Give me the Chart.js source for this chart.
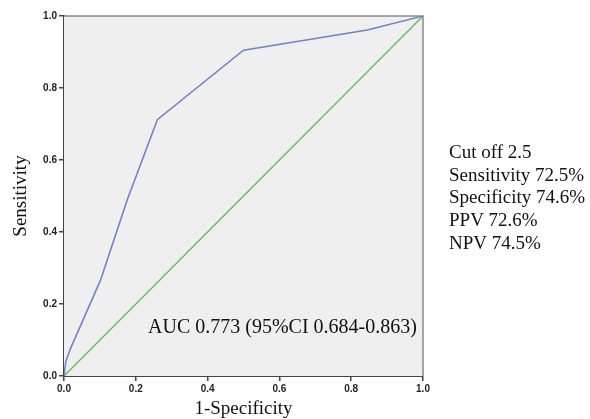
<!DOCTYPE html>
<html>
<head>
<meta charset="utf-8">
<script src="https://cdn.jsdelivr.net/npm/chart.js@4.4.1/dist/chart.umd.min.js"></script>
<style>
html,body{margin:0;padding:0;background:#fff;}
#wrap{width:590px;height:419px;}
</style>
</head>
<body>
<div id="wrap"><canvas id="c" width="590" height="419"></canvas></div>
<script>
// ROC curve (1-Specificity vs Sensitivity)
const fprValues = [0, 0.005, 0.018, 0.102, 0.125, 0.176, 0.26, 0.5, 0.845, 1];
const tprValues = [0, 0.04, 0.076, 0.267, 0.336, 0.489, 0.712, 0.905, 0.961, 1];
// Reference diagonal
const refX = [0, 1];
const refY = [0, 1];
const tickValues = [0, 0.2, 0.4, 0.6, 0.8, 1.0];
const xTitle = '1-Specificity';
const yTitle = 'Sensitivity';
const aucText = 'AUC 0.773 (95%CI 0.684-0.863)';
const statLines = ['Cut off 2.5', 'Sensitivity 72.5%', 'Specificity 74.6%', 'PPV 72.6%', 'NPV 74.5%'];

const rocPts = fprValues.map((x, i) => ({x: x, y: tprValues[i]}));
const refPts = refX.map((x, i) => ({x: x, y: refY[i]}));

const serif = '"Liberation Serif", "Times New Roman", serif';

const framePlugin = {
  id: 'frame',
  beforeDatasetsDraw(chart) {
    const a = chart.chartArea, ctx = chart.ctx;
    ctx.save();
    ctx.fillStyle = '#efefef';
    ctx.fillRect(a.left, a.top, a.right - a.left, a.bottom - a.top);
    ctx.strokeStyle = '#8a8a8a';
    ctx.lineWidth = 1.5;
    ctx.beginPath();
    ctx.moveTo(a.left, a.top);
    ctx.lineTo(a.right, a.top);
    ctx.lineTo(a.right, a.bottom);
    ctx.stroke();
    ctx.restore();
  },
  afterDraw(chart) {
    const a = chart.chartArea, ctx = chart.ctx;
    ctx.save();
    ctx.fillStyle = '#111';
    // x title
    ctx.font = '19px ' + serif;
    ctx.textAlign = 'center';
    ctx.textBaseline = 'alphabetic';
    ctx.fillText(xTitle, (a.left + a.right) / 2, 414);
    // y title
    ctx.save();
    ctx.translate(26, (a.top + a.bottom) / 2);
    ctx.rotate(-Math.PI / 2);
    ctx.fillText(yTitle, 0, 0);
    ctx.restore();
    // AUC text
    ctx.font = '20px ' + serif;
    ctx.textAlign = 'left';
    ctx.fillText(aucText, 148, 333);
    // stats
    ctx.font = '19px ' + serif;
    statLines.forEach((t, i) => ctx.fillText(t, 449, 158 + i * 22.7));
    ctx.restore();
  }
};

const axisCommon = {
  type: 'linear',
  min: 0,
  max: 1,
  afterBuildTicks(scale) { scale.ticks = tickValues.map(v => ({value: v})); },
  ticks: {
    callback: v => v.toFixed(1),
    font: {family: '"Liberation Sans", Arial, sans-serif', size: 10, weight: 'bold'},
    color: '#222',
    padding: 2
  },
  grid: {display: true, drawOnChartArea: false, drawTicks: true, tickLength: 5, color: '#444', lineWidth: 1.5},
  border: {display: true, color: '#444', width: 2}
};

new Chart(document.getElementById('c'), {
  type: 'scatter',
  data: {
    datasets: [
      {data: rocPts, showLine: true, borderColor: '#7484c8', borderWidth: 1.6, pointRadius: 0, fill: false, tension: 0},
      {data: refPts, showLine: true, borderColor: '#5cbf6a', borderWidth: 1.4, pointRadius: 0, fill: false}
    ]
  },
  options: {
    responsive: false,
    animation: false,
    devicePixelRatio: 1,
    layout: {padding: {left: 0, right: 167, top: 16, bottom: 0}},
    plugins: {legend: {display: false}, tooltip: {enabled: false}},
    scales: {
      x: Object.assign({}, axisCommon, {
        position: 'bottom',
        afterFit(s) { s.height = 43; },
        ticks: Object.assign({}, axisCommon.ticks, {maxRotation: 0})
      }),
      y: Object.assign({}, axisCommon, {
        position: 'left',
        afterFit(s) { s.width = 64; }
      })
    }
  },
  plugins: [framePlugin]
});
</script>
</body>
</html>
